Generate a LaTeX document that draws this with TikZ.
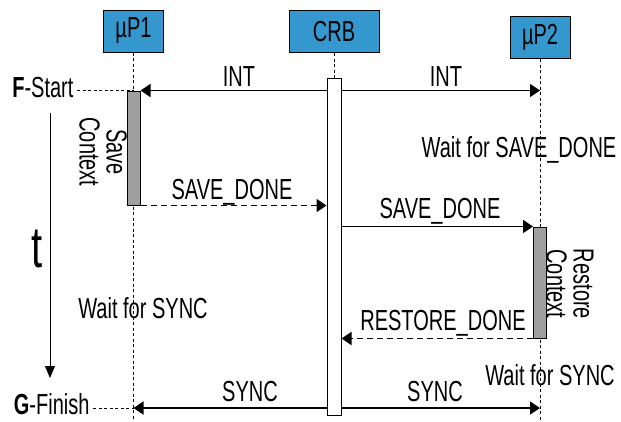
\documentclass[tikz,border=0pt]{standalone}
\usepackage{fontspec}
\setmainfont[FakeStretch=0.69]{Liberation Sans}
\usetikzlibrary{arrows.meta,positioning}
\definecolor{actorblue}{RGB}{52,152,207}
\tikzset{
    actor/.style={draw=black,fill=actorblue,line width=1pt,minimum width=60pt,minimum height=42pt,inner sep=0pt},
    actbar/.style={draw=black,fill=gray!75,line width=1pt,minimum width=13pt,inner sep=0pt},
    crbbar/.style={draw=black,fill=white,line width=1pt,minimum width=14pt,inner sep=0pt},
    lifeline/.style={line width=0.8pt,dash pattern=on 3pt off 2.5pt},
    msg/.style={line width=1.5pt,-{Triangle[length=10pt,width=13pt]}},
    reply/.style={msg,dash pattern=on 6pt off 4pt},
    every node/.style={font=\fontsize{29}{27}\selectfont}
}
\begin{document}
\begin{tikzpicture}[x=1pt,y=-1pt]
  \useasboundingbox (0,0) rectangle (621,421);
  % actors
  \node[actor] (p1) at (133.5,31) {µP1};
  \node[actor,minimum width=90pt] (crb) at (334,31.5) {CRB};
  \node[actor] (p2) at (540,37.5) {µP2};
  % lifelines
  \coordinate (p1end) at (133.5,421);
  \coordinate (p2end) at (540,421);
  \node[crbbar,minimum height=337pt] (crbbar) at (334,246.5) {};
  \draw[lifeline] (p1.south) -- (p1end);
  \draw[lifeline] (p2.south) -- (p2end);
  \draw[lifeline] (crb.south) -- (crbbar.north);
  % activations
  \node[actbar,minimum height=114pt] (p1bar) at (133.5,148) {};
  \node[actbar,minimum height=111pt] (p2bar) at (540,282.5) {};
  % time markers
  \node[anchor=base east] (fstart) at (77,97) {\textbf{F}-Start};
  \node[anchor=base east] (gfinish) at (93,414) {\textbf{G}-Finish};
  \draw[lifeline] (fstart.east |- p1bar.north) -- (p1bar.north);
  \coordinate (syncy) at (133.5,408);
  \draw[lifeline] (gfinish.east |- syncy) -- (syncy);
  \coordinate (tstart) at (50,113);
  \coordinate (tend) at (50,378);
  \draw[line width=1pt,-{Triangle[length=12pt,width=10pt]}] (tstart) -- (tend);
  \node[anchor=base,font=\fontsize{58}{58}\selectfont] (tlab) at (37,267) {t};
  % messages
  \draw[msg] (crbbar.west |- p1bar.north) -- (p1bar.north east);
  \draw[msg] (crbbar.east |- p1bar.north) -- (p2bar.center |- p1bar.north);
  \node[anchor=base] (int1) at (239,86) {INT};
  \node[anchor=base] (int2) at (446,86) {INT};
  \node[rotate=-90,align=center] (savectx) at (103,152) {Save\\Context};
  \draw[reply] (p1bar.south east) -- (crbbar.west |- p1bar.south);
  \node[anchor=base] (sd1) at (232,199) {SAVE\_DONE};
  \node[anchor=base] (waitsd) at (519,157) {Wait for SAVE\_DONE};
  \draw[msg] (crbbar.east |- p2bar.north) -- (p2bar.north west);
  \node[anchor=base] (sd2) at (440,218) {SAVE\_DONE};
  \node[rotate=-90,align=center] (restctx) at (570,284) {Restore\\Context};
  \draw[reply] (p2bar.south west) -- (crbbar.east |- p2bar.south);
  \node[anchor=base] (rd) at (443,330) {RESTORE\_DONE};
  \node[anchor=base] (waitsy1) at (143,318) {Wait for SYNC};
  \node[anchor=base] (waitsy2) at (550,385) {Wait for SYNC};
  \draw[msg] (crbbar.west |- syncy) -- (syncy);
  \draw[msg] (crbbar.east |- syncy) -- (p2bar.center |- syncy);
  \node[anchor=base] (sync1) at (250,401) {SYNC};
  \node[anchor=base] (sync2) at (435,401) {SYNC};
\end{tikzpicture}
\end{document}
